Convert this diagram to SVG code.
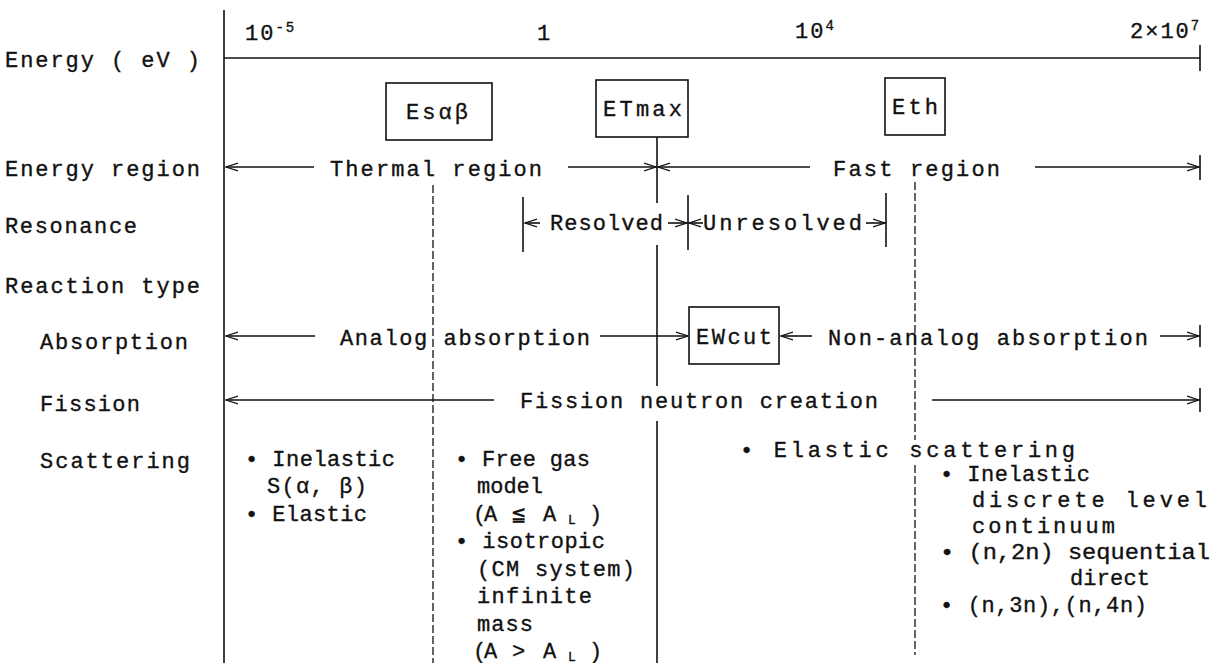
<svg xmlns="http://www.w3.org/2000/svg" width="1213" height="663" viewBox="0 0 1213 663">
<defs>
<marker id="ah" markerWidth="14" markerHeight="10" refX="12" refY="5" orient="auto" markerUnits="userSpaceOnUse"><path d="M0,1 L12,5 L0,9" fill="none" stroke="#111" stroke-width="1.3"/></marker>
</defs>
<style>
text{font-family:"Liberation Mono","DejaVu Sans Mono","Noto Sans CJK JP",monospace;font-size:22px;fill:#111;stroke:#111;stroke-width:0.35}
.ln{stroke:#111;stroke-width:1.6;fill:none}
.dash{stroke:#111;stroke-width:1.3;stroke-dasharray:8 3;fill:none}
.box{fill:#fff;stroke:#111;stroke-width:1.6}
.arr{stroke:#111;stroke-width:1.6;fill:none;marker-end:url(#ah)}
.sup{font-size:14px}
.sub{font-size:13px}
</style>
<rect width="1213" height="663" fill="#fff"/>
<g id="row-labels">
<text x="5" y="67" textLength="195" lengthAdjust="spacing">Energy ( eV )</text>
<text x="5" y="176" textLength="195" lengthAdjust="spacing">Energy region</text>
<text x="5" y="233" textLength="132" lengthAdjust="spacing">Resonance</text>
<text x="5" y="293" textLength="195" lengthAdjust="spacing">Reaction type</text>
<text x="40" y="349" textLength="148" lengthAdjust="spacing">Absorption</text>
<text x="40" y="411" textLength="100" lengthAdjust="spacing">Fission</text>
<text x="40" y="468" textLength="150" lengthAdjust="spacing">Scattering</text>
</g>
<g id="axis">
<line class="ln" x1="224" y1="10" x2="224" y2="663"/>
<line class="ln" x1="224" y1="58" x2="1200" y2="58"/>
<line class="ln" x1="1200" y1="45" x2="1200" y2="71"/>
<text x="245" y="40" letter-spacing="2">10<tspan class="sup" dy="-8">-5</tspan></text>
<text x="537" y="40">1</text>
<text x="795" y="38" letter-spacing="2">10<tspan class="sup" dy="-8">4</tspan></text>
<text x="1130" y="38" letter-spacing="2">2×10<tspan class="sup" dy="-8">7</tspan></text>
</g>
<g id="node-Esab">
<rect class="box" x="386" y="83" width="106" height="57"/>
<text x="406" y="119" textLength="62" lengthAdjust="spacing">Esαβ</text>
</g>
<g id="node-ETmax">
<rect class="box" x="596" y="80" width="92" height="57"/>
<text x="603" y="116" textLength="79" lengthAdjust="spacing">ETmax</text>
</g>
<g id="node-Eth">
<rect class="box" x="885" y="78" width="60" height="57"/>
<text x="892" y="114" textLength="46" lengthAdjust="spacing">Eth</text>
</g>
<g id="node-EWcut">
<rect class="box" x="689" y="307" width="90" height="57"/>
<text x="696" y="344" textLength="76" lengthAdjust="spacing">EWcut</text>
</g>
<g id="connectors">
<line class="ln" x1="657" y1="137" x2="657" y2="203"/>
<line class="ln" x1="657" y1="245" x2="657" y2="307"/>
<line class="ln" x1="657" y1="307" x2="657" y2="386"/>
<line class="ln" x1="657" y1="421" x2="657" y2="663"/>
<line class="dash" x1="433" y1="185" x2="433" y2="663"/>
<line class="dash" x1="915" y1="182" x2="915" y2="440"/>
<line class="dash" x1="915" y1="465" x2="915" y2="655"/>
<line class="arr" x1="314" y1="167" x2="226" y2="167"/>
<line class="arr" x1="568" y1="167" x2="656" y2="167"/>
<line class="arr" x1="810" y1="167" x2="658" y2="167"/>
<line class="arr" x1="1035" y1="167" x2="1199" y2="167"/>
<line class="ln" x1="1200" y1="155" x2="1200" y2="180"/>
<line class="ln" x1="523" y1="197" x2="523" y2="252"/>
<line class="ln" x1="688" y1="195" x2="688" y2="250"/>
<line class="ln" x1="886" y1="193" x2="886" y2="247"/>
<line class="arr" x1="540" y1="223" x2="525" y2="223"/>
<line class="arr" x1="668" y1="223" x2="687" y2="223"/>
<line class="arr" x1="703" y1="223" x2="689" y2="223"/>
<line class="arr" x1="866" y1="223" x2="885" y2="223"/>
<line class="arr" x1="315" y1="336" x2="226" y2="336"/>
<line class="arr" x1="600" y1="336" x2="688" y2="336"/>
<line class="arr" x1="812" y1="336" x2="781" y2="336"/>
<line class="arr" x1="1160" y1="336" x2="1199" y2="336"/>
<line class="ln" x1="1200" y1="325" x2="1200" y2="347"/>
<line class="arr" x1="494" y1="400" x2="226" y2="400" stroke-width="2.2"/>
<line class="arr" x1="932" y1="400" x2="1199" y2="400"/>
<line class="ln" x1="1200" y1="388" x2="1200" y2="412"/>
</g>
<g id="row-texts">
<text x="330" y="176" textLength="212" lengthAdjust="spacing">Thermal region</text>
<text x="833" y="176" textLength="167" lengthAdjust="spacing">Fast region</text>
<text x="550" y="230" textLength="113" lengthAdjust="spacing">Resolved</text>
<text x="703" y="230" textLength="159" lengthAdjust="spacing">Unresolved</text>
<text x="340" y="345" textLength="250" lengthAdjust="spacing">Analog absorption</text>
<text x="828" y="345" textLength="320" lengthAdjust="spacing">Non-analog absorption</text>
<text x="520" y="408" textLength="358" lengthAdjust="spacing">Fission neutron creation</text>
</g>
<g id="scattering-thermal">
<text x="245" y="466" textLength="150" lengthAdjust="spacing">• Inelastic</text>
<text x="267" y="493" textLength="100" lengthAdjust="spacing">S(α, β)</text>
<text x="245" y="521" textLength="122" lengthAdjust="spacing">• Elastic</text>
</g>
<g id="scattering-freegas">
<text x="455" y="466" textLength="135" lengthAdjust="spacing">• Free gas</text>
<text x="477" y="493" textLength="66" lengthAdjust="spacing">model</text>
<text y="521"><tspan x="473">(</tspan><tspan x="484">A</tspan><tspan x="512">≦</tspan><tspan x="543">A</tspan><tspan class="sub" x="568" dy="3">L</tspan><tspan x="589" dy="-3">)</tspan></text>
<text x="455" y="548" textLength="150" lengthAdjust="spacing">• isotropic</text>
<text x="477" y="576" textLength="158" lengthAdjust="spacing">(CM system)</text>
<text x="477" y="603" textLength="115" lengthAdjust="spacing">infinite</text>
<text x="477" y="631" textLength="56" lengthAdjust="spacing">mass</text>
<text y="658"><tspan x="473">(</tspan><tspan x="484">A</tspan><tspan x="512">&gt;</tspan><tspan x="543">A</tspan><tspan class="sub" x="568" dy="3">L</tspan><tspan x="589" dy="-3">)</tspan></text>
</g>
<g id="scattering-fast">
<text x="740" y="457" textLength="335" lengthAdjust="spacing">• Elastic  scattering</text>
<text x="940" y="481" textLength="150" lengthAdjust="spacing">• Inelastic</text>
<text x="972" y="507" textLength="235" lengthAdjust="spacing">discrete level</text>
<text x="972" y="533" textLength="143" lengthAdjust="spacing">continuum</text>
<text x="940" y="559" textLength="270" lengthAdjust="spacingAndGlyphs">• (n,2n) sequential</text>
<text x="1070" y="585" textLength="80" lengthAdjust="spacing">direct</text>
<text x="940" y="612" textLength="207" lengthAdjust="spacing">• (n,3n),(n,4n)</text>
</g>
</svg>
